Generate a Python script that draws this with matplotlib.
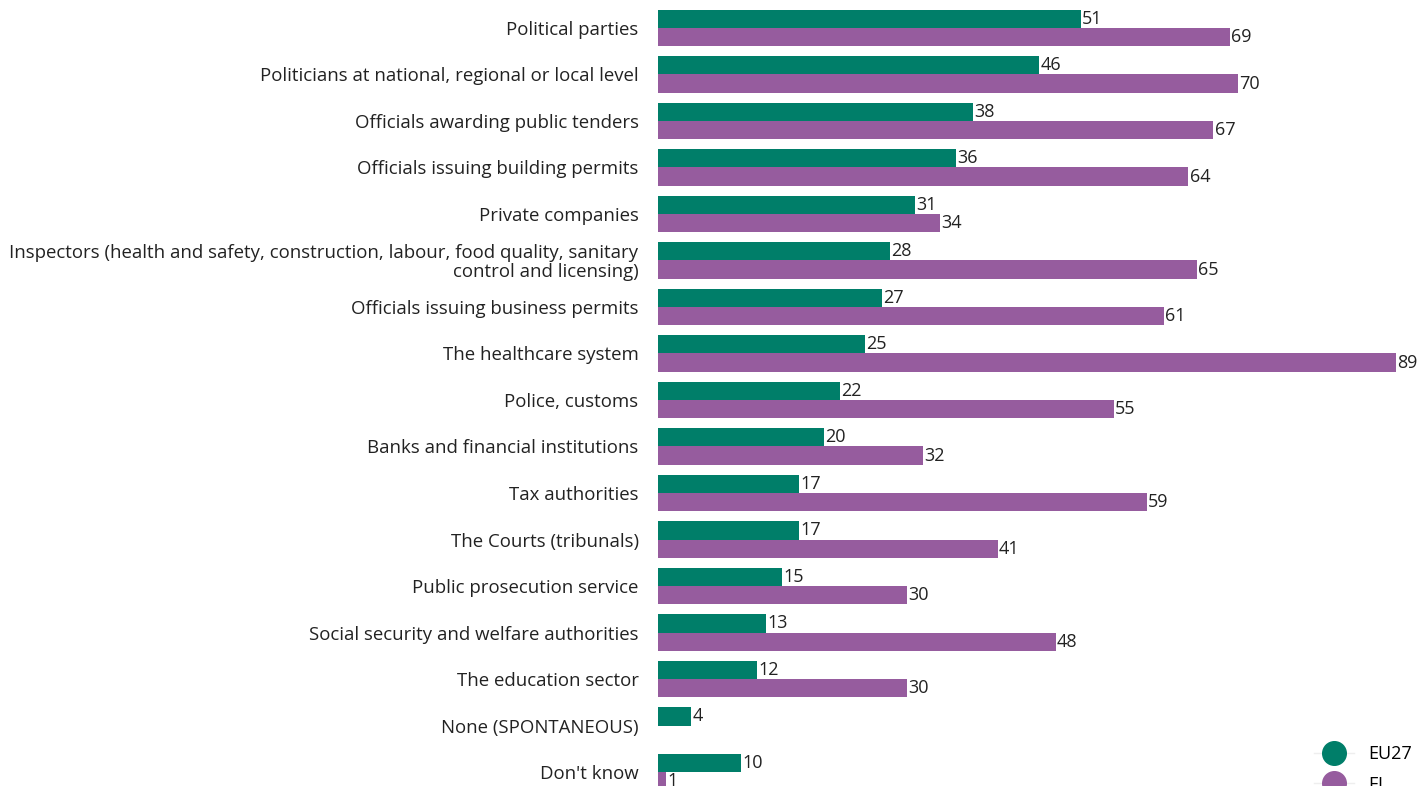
import numpy as np
import matplotlib.pyplot as plt
from matplotlib.lines import Line2D

plt.rcParams['font.family'] = ['Open Sans', 'DejaVu Sans']

categories = [
    "Political parties",
    "Politicians at national, regional or local level",
    "Officials awarding public tenders",
    "Officials issuing building permits",
    "Private companies",
    "Inspectors (health and safety, construction, labour, food quality, sanitary\ncontrol and licensing)",
    "Officials issuing business permits",
    "The healthcare system",
    "Police, customs",
    "Banks and financial institutions",
    "Tax authorities",
    "The Courts (tribunals)",
    "Public prosecution service",
    "Social security and welfare authorities",
    "The education sector",
    "None (SPONTANEOUS)",
    "Don't know",
]
eu27 = [51, 46, 38, 36, 31, 28, 27, 25, 22, 20, 17, 17, 15, 13, 12, 4, 10]
el = [69, 70, 67, 64, 34, 65, 61, 89, 55, 32, 59, 41, 30, 48, 30, None, 1]

green = '#007E69'
purple = '#965C9E'

fig = plt.figure(figsize=(14.28, 7.86), dpi=100)
ax = fig.add_axes([0.4608, 0.0, 0.5392, 1.0])

y = np.arange(len(categories))
h = 0.39
ax.barh(y - h / 2, eu27, height=h, color=green)
el_vals = [v if v is not None else 0 for v in el]
ax.barh(y + h / 2, el_vals, height=h, color=purple)

for i in range(len(categories)):
    ax.text(eu27[i] + 0.15, y[i] - h / 2, str(eu27[i]), va='center', ha='left', fontsize=13, color='#222222')
    if el[i] is not None:
        ax.text(el[i] + 0.15, y[i] + h / 2, str(el[i]), va='center', ha='left', fontsize=13, color='#222222')

ax.set_yticks(y)
ax.set_yticklabels(categories, fontsize=13.4, color='#222222', ha='right', linespacing=1.05)
ax.tick_params(axis='y', length=0, pad=14)
ax.set_xticks([])
ax.set_xlim(0, 92.9)
ax.set_ylim(16.301, -0.602)
for s in ax.spines.values():
    s.set_visible(False)

handles = [
    Line2D([], [], marker='o', color='#eeeeee', markerfacecolor=green, markeredgecolor=green, markersize=17, lw=1),
    Line2D([], [], marker='o', color='#eeeeee', markerfacecolor=purple, markeredgecolor=purple, markersize=17, lw=1),
]
fig.legend(handles, ['EU27', 'EL'], loc='upper left', bbox_to_anchor=(0.909, 0.073),
           frameon=False, fontsize=13, handlelength=2.2, labelspacing=0.7)

fig.savefig('out.png', dpi=100)
